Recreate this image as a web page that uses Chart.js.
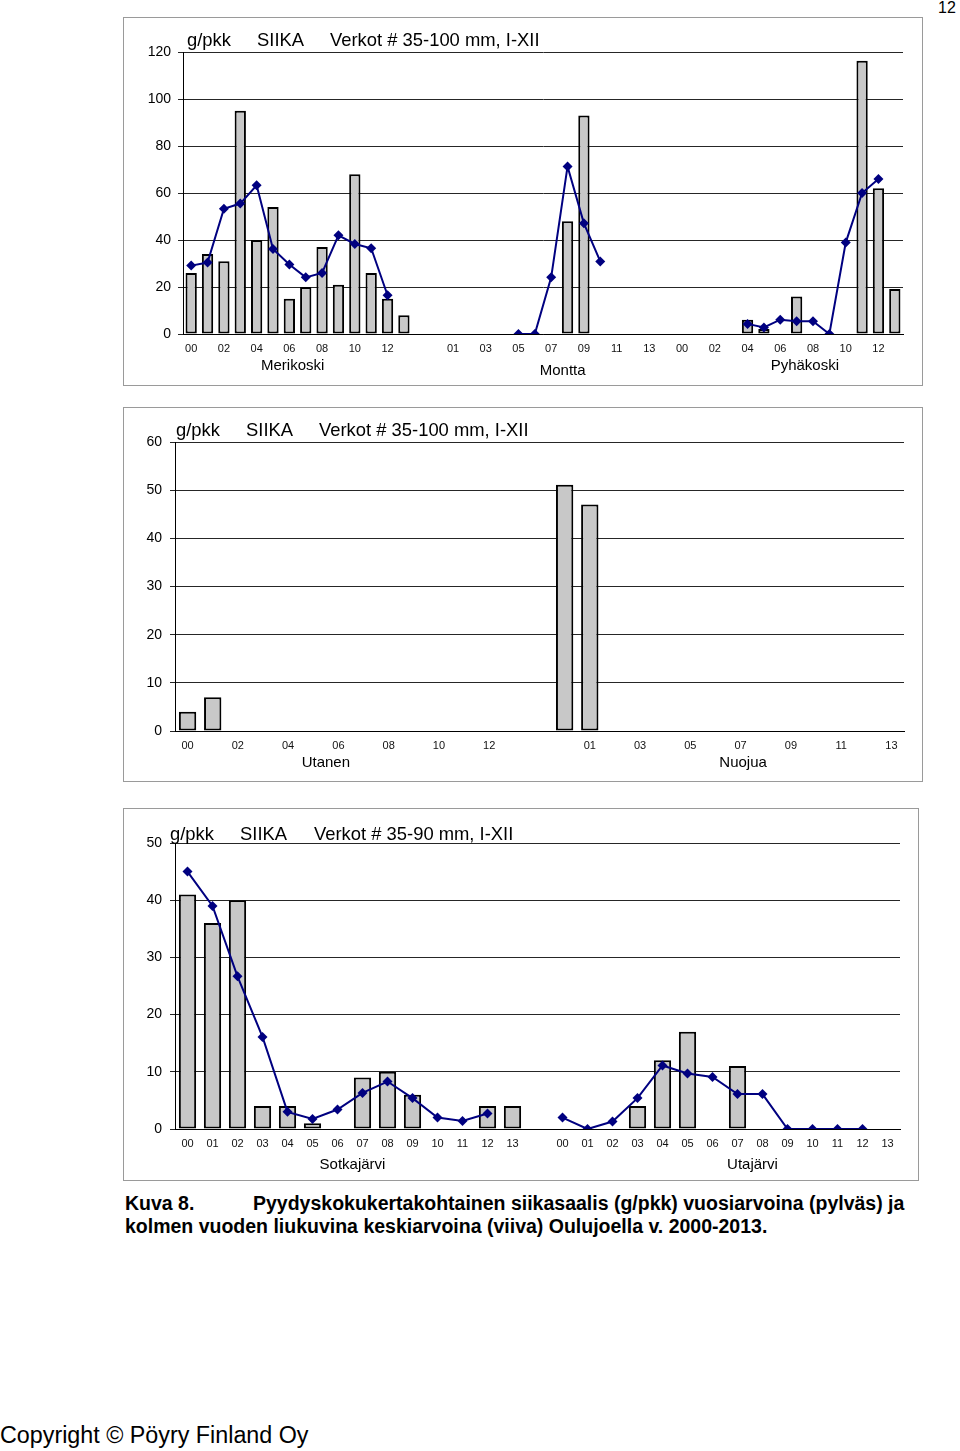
<!DOCTYPE html>
<html>
<head>
<meta charset="utf-8">
<script src="https://cdn.jsdelivr.net/npm/chart.js@4.4.1/dist/chart.umd.min.js"></script>
<style>
  body { margin: 0; width: 960px; height: 1451px; background: #fff; position: relative; font-family: "Liberation Sans", Arial, sans-serif; color: #000; overflow: hidden; }
  .box { position: absolute; border: 1px solid #9a9a9a; background: #fff; }
  .box canvas { position: absolute; left: 0; top: 0; }
  .t { position: absolute; white-space: nowrap; line-height: 1; }
  .title { font-size: 18.4px; }
  .cap { font-size: 19.5px; font-weight: bold; }
</style>
</head>
<body>

<div class="t" style="left:938px;top:0px;font-size:16px;">12</div>

<div class="box" style="left:123px;top:17px;width:798px;height:367px;"><canvas id="c1" width="798" height="367"></canvas></div>
<div class="t title" style="left:187px;top:31px;">g/pkk</div>
<div class="t title" style="left:257px;top:31px;">SIIKA</div>
<div class="t title" style="left:330px;top:31px;">Verkot # 35-100 mm, I-XII</div>

<div class="box" style="left:123px;top:407px;width:798px;height:373px;"><canvas id="c2" width="798" height="373"></canvas></div>
<div class="t title" style="left:176px;top:421px;">g/pkk</div>
<div class="t title" style="left:246px;top:421px;">SIIKA</div>
<div class="t title" style="left:319px;top:421px;">Verkot # 35-100 mm, I-XII</div>

<div class="box" style="left:123px;top:808px;width:794px;height:371px;"><canvas id="c3" width="794" height="371"></canvas></div>
<div class="t title" style="left:170px;top:825px;">g/pkk</div>
<div class="t title" style="left:240px;top:825px;">SIIKA</div>
<div class="t title" style="left:314px;top:825px;">Verkot # 35-90 mm, I-XII</div>

<div class="t cap" style="left:125px;top:1194px;">Kuva 8.</div>
<div class="t cap" style="left:253px;top:1194px;">Pyydyskokukertakohtainen siikasaalis (g/pkk) vuosiarvoina (pylväs) ja</div>
<div class="t cap" style="left:125px;top:1217px;">kolmen vuoden liukuvina keskiarvoina (viiva) Oulujoella v. 2000-2013.</div>

<div class="t" style="left:0px;top:1424px;font-size:23.3px;">Copyright © Pöyry Finland Oy</div>

<script>
// years 2000-2013, one category per year, one empty category between sites
const years = ['00','01','02','03','04','05','06','07','08','09','10','11','12','13'];
const evenTicks = ['00','','02','','04','','06','','08','','10','','12',''];
const oddTicks = ['','01','','03','','05','','07','','09','','11','','13'];

// Chart 1: Merikoski, Montta, Pyhäkoski (g/pkk)
const merikoskiBars = [26, 34, 31, 95, 40, 54, 15, 20, 37, 21, 68, 26, 15, 8];
const merikoskiAvg = [29.1, 30.4, 53.3, 55.5, 63.3, 36.2, 29.6, 24.1, 26, 42, 38.3, 36.5, 16.5, null];
const monttaBars = [null, null, null, null, null, null, null, null, 48, 93, null, null, null, null];
const monttaAvg = [null, null, null, null, null, 0, 0, 24.1, 71.3, 47.1, 30.9, null, null, null];
const pyhakoskiBars = [null, null, null, null, 6.1, 2.1, null, 16, null, null, null, 116.3, 62, 19.1];
const pyhakoskiAvg = [null, null, null, null, 4.3, 2.8, 6.1, 5.4, 5.4, 0, 38.9, 60, 66, null];

// Chart 2: Utanen, Nuojua
const utanenBars = [4, 7, null, null, null, null, null, null, null, null, null, null, null, null];
const nuojuaBars = [51.1, 47, null, null, null, null, null, null, null, null, null, null, null, null];

// Chart 3: Sotkajärvi, Utajärvi
const sotkaBars = [41, 36, 40, 4, 4, 1, null, 9, 10, 6, null, null, 4, 4];
const sotkaAvg = [45, 39, 26.7, 16.1, 3, 1.75, 3.4, 6.3, 8.3, 5.4, 2, 1.4, 2.7, null];
const utaBars = [null, null, null, 4, 12, 17, null, 11, null, null, null, null, null, null];
const utaAvg = [2, 0, 1.3, 5.4, 11.1, 9.7, 9.1, 6.1, 6.1, 0, 0, 0, 0, null];

function join(...parts) {
  // sites separated by one empty category
  let out = [];
  parts.forEach((p, i) => { if (i > 0) out.push(null); out = out.concat(p); });
  return out;
}
function joinLabels(...parts) {
  let out = [];
  parts.forEach((p, i) => { if (i > 0) out.push(''); out = out.concat(p); });
  return out;
}

// draws the site names under the year ticks
const groupLabels = {
  id: 'groupLabels',
  afterDraw(chart, args, opts) {
    const ctx = chart.ctx;
    const x = chart.scales.x;
    ctx.save();
    ctx.font = '15px "Liberation Sans", Arial, sans-serif';
    ctx.fillStyle = '#000';
    ctx.textAlign = 'center';
    ctx.textBaseline = 'middle';
    opts.items.forEach(it => {
      ctx.fillText(it.text, x.getPixelForValue(it.at), chart.chartArea.bottom + it.dy);
    });
    ctx.restore();
  }
};

function makeChart(id, cfg) {
  const datasets = [];
  if (cfg.avg) {
    datasets.push({
      type: 'line',
      data: cfg.avg,
      borderColor: '#000080',
      borderWidth: 2,
      pointStyle: 'rectRot',
      pointRadius: 5,
      pointBackgroundColor: '#000080',
      pointBorderWidth: 0,
      tension: 0,
      spanGaps: false,
      order: 0
    });
  }
  datasets.push({
    type: 'bar',
    data: cfg.bars,
    backgroundColor: '#c8c8c8',
    borderColor: '#000',
    borderWidth: 2,
    borderSkipped: false,
    barPercentage: 0.69,
    categoryPercentage: 1,
    order: 1
  });

  return new Chart(document.getElementById(id), {
    type: 'bar',
    data: { labels: cfg.labels, datasets: datasets },
    options: {
      responsive: false,
      animation: false,
      events: [],
      layout: { padding: { left: 0, right: cfg.padRight, top: cfg.padTop, bottom: 0 } },
      plugins: {
        legend: { display: false },
        tooltip: { enabled: false },
        groupLabels: { items: cfg.groups }
      },
      scales: {
        x: {
          offset: true,
          grid: { display: false, drawTicks: false },
          border: { display: true, color: '#000', width: 1 },
          ticks: {
            autoSkip: false,
            maxRotation: 0,
            padding: 8,
            color: '#111',
            font: { family: '"Liberation Sans", Arial, sans-serif', size: 11 },
            callback: (v, i) => cfg.ticks[i]
          },
          afterFit: s => { s.height = cfg.xHeight; }
        },
        y: {
          min: 0,
          max: cfg.max,
          ticks: {
            stepSize: cfg.step,
            padding: cfg.yPad,
            color: '#000',
            font: { family: '"Liberation Sans", Arial, sans-serif', size: 14 }
          },
          grid: { color: '#262626', lineWidth: 1, drawTicks: true, tickLength: 5 },
          border: { display: true, color: '#000', width: 1 },
          afterFit: s => { s.width = cfg.yWidth; }
        }
      }
    },
    plugins: [groupLabels]
  });
}

makeChart('c1', {
  labels: joinLabels(years, years, years),
  ticks: joinLabels(evenTicks, oddTicks, evenTicks),
  bars: join(merikoskiBars, monttaBars, pyhakoskiBars),
  avg: join(merikoskiAvg, monttaAvg, pyhakoskiAvg),
  max: 120, step: 20,
  yWidth: 59, xHeight: 51, padTop: 34, padRight: 19, yPad: 7,
  groups: [
    { text: 'Merikoski', at: 6.2, dy: 32 },
    { text: 'Montta', at: 22.7, dy: 37 },
    { text: 'Pyhäkoski', at: 37.5, dy: 32 }
  ]
});

makeChart('c2', {
  labels: joinLabels(years, years),
  ticks: joinLabels(evenTicks, oddTicks),
  bars: join(utanenBars, nuojuaBars),
  avg: null,
  max: 60, step: 10,
  yWidth: 51, xHeight: 50, padTop: 34, padRight: 18, yPad: 8,
  groups: [
    { text: 'Utanen', at: 5.5, dy: 32 },
    { text: 'Nuojua', at: 22.1, dy: 32 }
  ]
});

makeChart('c3', {
  labels: joinLabels(years, years),
  ticks: joinLabels(years, years),
  bars: join(sotkaBars, utaBars),
  avg: join(sotkaAvg, utaAvg),
  max: 50, step: 10,
  yWidth: 51, xHeight: 51, padTop: 34, padRight: 18, yPad: 8,
  groups: [
    { text: 'Sotkajärvi', at: 6.6, dy: 36 },
    { text: 'Utajärvi', at: 22.6, dy: 36 }
  ]
});
</script>
</body>
</html>
